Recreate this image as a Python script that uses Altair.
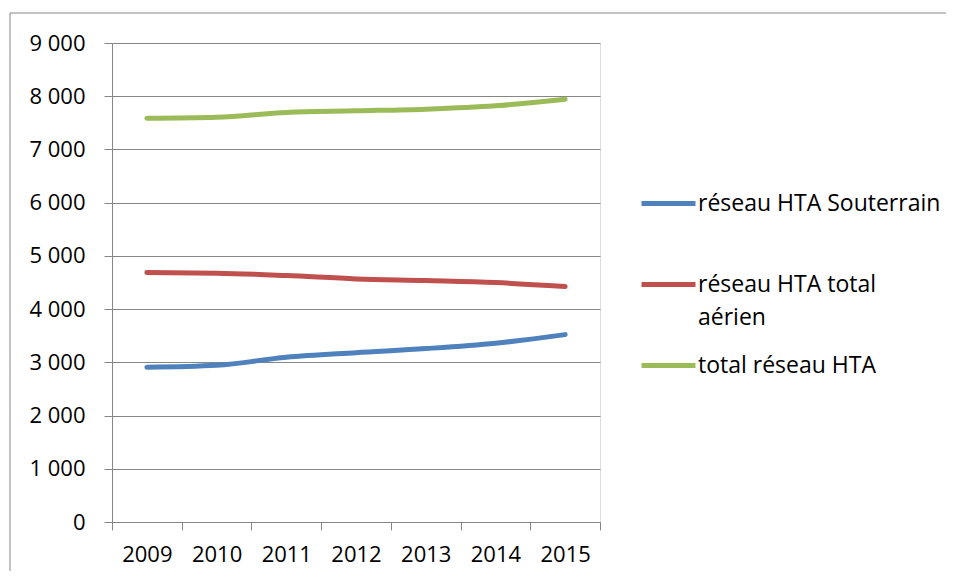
import altair as alt
import pandas as pd

years = ["2009", "2010", "2011", "2012", "2013", "2014", "2015"]
souterrain = [2908, 2945, 3096, 3182, 3258, 3359, 3521]
aerien = [4686, 4675, 4630, 4568, 4536, 4498, 4423]
total = [7588, 7607, 7694, 7725, 7757, 7820, 7945]
series_names = ["réseau HTA Souterrain", "réseau HTA total aérien", "total réseau HTA"]
colors = ["#4F81BD", "#C0504D", "#9BBB59"]
y_ticks = [0, 1000, 2000, 3000, 4000, 5000, 6000, 7000, 8000, 9000]

rows = []
for name, vals in zip(series_names, [souterrain, aerien, total]):
    for yr, v in zip(years, vals):
        rows.append({"year": yr, "value": v, "series": name})
df = pd.DataFrame(rows)

FONT = "Open Sans"
FS = 22
GREY = "#868686"

lines = alt.Chart(df).mark_line(
    strokeWidth=5, interpolate="monotone", strokeCap="round", strokeJoin="round"
).encode(
    x=alt.X(
        "year:N", sort=years, title=None,
        scale=alt.Scale(type="band", paddingInner=0, paddingOuter=0),
        axis=alt.Axis(
            tickBand="extent", grid=False, labelAngle=0, domainColor=GREY,
            tickColor=GREY, tickSize=8, labelPadding=14, labelFont=FONT,
            labelFontSize=FS, labelColor="#000000",
        ),
    ),
    y=alt.Y(
        "value:Q", title=None,
        scale=alt.Scale(domain=[0, 9000], nice=False),
        axis=alt.Axis(
            values=y_ticks, grid=True, gridColor=GREY, domainColor=GREY,
            tickColor=GREY, tickSize=8, labelPadding=19, labelFont=FONT,
            labelFontSize=FS, labelColor="#000000",
            labelExpr="replace(format(datum.value, ','), ',', ' ')",
        ),
    ),
    color=alt.Color(
        "series:N", sort=series_names,
        scale=alt.Scale(domain=series_names, range=colors),
        legend=alt.Legend(
            title=None, orient="none", legendX=527, legendY=131,
            symbolType="stroke", symbolSize=2916, symbolStrokeWidth=5,
            labelFont=FONT, labelFontSize=23, labelColor="#000000",
            labelOffset=0, rowPadding=6, labelLimit=400,
            labelExpr="datum.label == 'réseau HTA total aérien' ? ['réseau HTA total', 'aérien'] : [datum.label, ' ']",
        ),
    ),
)

frame_data = pd.DataFrame({"a": [0]})
frame_left = alt.Chart(frame_data).mark_rule(stroke=GREY, strokeWidth=1).encode(
    x=alt.value(-102), y=alt.value(-30), y2=alt.value(600)
)
frame_top = alt.Chart(frame_data).mark_rule(stroke=GREY, strokeWidth=1).encode(
    x=alt.value(-102), x2=alt.value(834), y=alt.value(-30)
)

chart = alt.layer(frame_left, frame_top, lines).properties(
    width=488, height=479,
    autosize=alt.AutoSizeParams(type="none"),
    padding={"left": 104, "top": 35, "right": 346, "bottom": 49},
).configure_view(stroke=None).configure(
    style={"guide-label": {"lineHeight": 33}}
)

chart.save("out.html", embed_options={"renderer": "svg", "actions": False})
